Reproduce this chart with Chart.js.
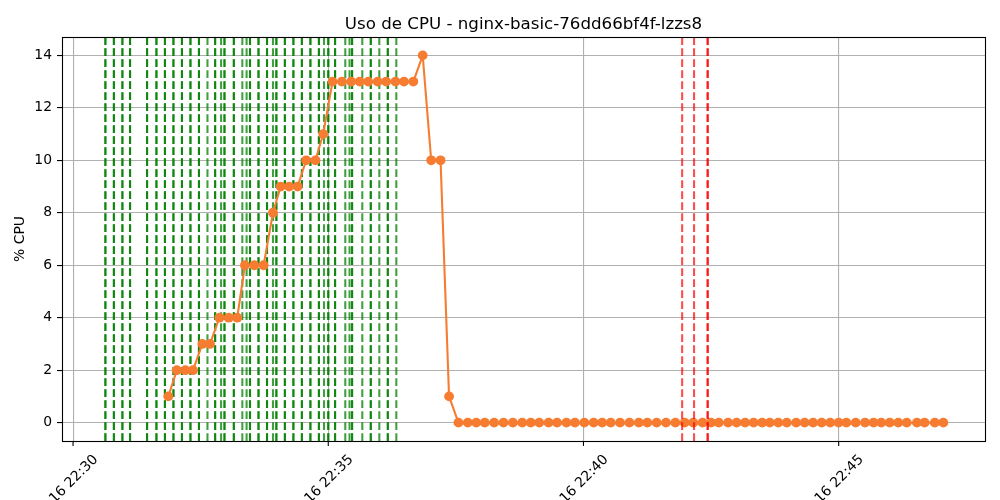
<!DOCTYPE html>
<html>
<head>
<meta charset="utf-8">
<script src="https://cdn.jsdelivr.net/npm/chart.js@4/dist/chart.umd.min.js"></script>
<style>
html,body{margin:0;padding:0;background:#fff;}
#wrap{width:1000px;height:500px;}
</style>
</head>
<body>
<div id="wrap"><canvas id="c" width="1000" height="500"></canvas></div>
<script>
// ---- data ----
const chartTitle = "Uso de CPU - nginx-basic-76dd66bf4f-lzzs8";
const yAxisTitle = "% CPU";

const sampleTimes = [
  "22:31:52","22:32:02","22:32:12","22:32:21","22:32:32","22:32:41","22:32:52","22:33:03","22:33:13","22:33:22",
  "22:33:33","22:33:44","22:33:55","22:34:04","22:34:14","22:34:24","22:34:34","22:34:45","22:34:54","22:35:05",
  "22:35:16","22:35:27","22:35:37","22:35:47","22:35:58","22:36:08","22:36:19","22:36:29","22:36:40","22:36:51",
  "22:37:01","22:37:12","22:37:22","22:37:33","22:37:44","22:37:54","22:38:04","22:38:15","22:38:26","22:38:37",
  "22:38:48","22:38:58","22:39:08","22:39:19","22:39:29","22:39:40","22:39:50","22:40:01","22:40:12","22:40:22",
  "22:40:32","22:40:43","22:40:54","22:41:05","22:41:15","22:41:26","22:41:37","22:41:48","22:41:59","22:42:09",
  "22:42:20","22:42:30","22:42:39","22:42:50","22:43:00","22:43:10","22:43:20","22:43:30","22:43:39","22:43:49",
  "22:43:59","22:44:10","22:44:20","22:44:30","22:44:40","22:44:50","22:45:00","22:45:09","22:45:20","22:45:31",
  "22:45:41","22:45:50","22:46:00","22:46:10","22:46:20","22:46:32","22:46:41","22:46:53","22:47:03"
];

const cpuValues = [
  1, 2, 2, 2, 3, 3, 4, 4, 4, 6,
  6, 6, 8, 9, 9, 9, 10, 10, 11, 13,
  13, 13, 13, 13, 13, 13, 13, 13, 13, 14,
  10, 10, 1,
  0, 0, 0, 0, 0, 0, 0, 0, 0, 0, 0, 0, 0, 0,
  0, 0, 0, 0, 0, 0, 0, 0, 0, 0, 0, 0, 0, 0,
  0, 0, 0, 0, 0, 0, 0, 0, 0, 0, 0, 0, 0, 0,
  0, 0, 0, 0, 0, 0, 0, 0, 0, 0, 0, 0, 0, 0
];

const scaleUpEvents = [
  "22:30:38","22:30:38","22:30:48","22:30:48","22:30:58","22:30:58","22:31:07","22:31:07",
  "22:31:27","22:31:27","22:31:38","22:31:38","22:31:48","22:31:48","22:31:58","22:31:58",
  "22:32:08","22:32:08","22:32:18","22:32:18","22:32:28","22:32:28","22:32:38",
  "22:32:47","22:32:47","22:32:54","22:32:58","22:32:58","22:33:09","22:33:09",
  "22:33:19","22:33:24","22:33:28","22:33:28","22:33:38","22:33:38","22:33:48","22:33:48",
  "22:33:55","22:33:59","22:33:59","22:34:09","22:34:09","22:34:19","22:34:19",
  "22:34:29","22:34:29","22:34:39","22:34:39","22:34:49","22:34:49","22:34:55",
  "22:35:00","22:35:00","22:35:08","22:35:08","22:35:20","22:35:25","22:35:28","22:35:28",
  "22:35:40","22:35:50","22:35:50","22:36:00","22:36:10","22:36:10","22:36:20"
];

const scaleDownEvents = ["22:41:56","22:42:10","22:42:26","22:42:26"];

const xTickTimes = ["22:30:00","22:35:00","22:40:00","22:45:00"];
const xTickLabels = ["16 22:30","16 22:35","16 22:40","16 22:45"];
const xRange = ["22:29:47","22:47:52"];
const yTicks = [0, 2, 4, 6, 8, 10, 12, 14];
const yRange = [-0.7, 14.7];

// ---- helpers ----
function toSec(t) {
  const p = t.split(":").map(Number);
  return p[0] * 3600 + p[1] * 60 + p[2];
}

const FONT = '"DejaVu Sans", sans-serif';
const TICK_SIZE = 13.9;
const TITLE_SIZE = 16.67;

const points = sampleTimes.map((t, i) => ({ x: toSec(t), y: cpuValues[i] }));

function drawVLines(chart, times, color) {
  const ctx = chart.ctx;
  const xs = chart.scales.x;
  const a = chart.chartArea;
  ctx.save();
  ctx.beginPath();
  ctx.rect(a.left, a.top, a.right - a.left, a.bottom - a.top);
  ctx.clip();
  ctx.strokeStyle = color;
  ctx.lineWidth = 2.08;
  ctx.setLineDash([7.7, 3.3]);
  times.forEach(t => {
    const x = xs.getPixelForValue(toSec(t));
    ctx.beginPath();
    ctx.moveTo(x, a.bottom);
    ctx.lineTo(x, a.top);
    ctx.stroke();
  });
  ctx.restore();
}

const overlay = {
  id: "overlay",
  beforeDatasetsDraw(chart) {
    drawVLines(chart, scaleUpEvents, "rgba(0,128,0,0.75)");
  },
  afterDatasetsDraw(chart) {
    drawVLines(chart, scaleDownEvents, "rgba(255,0,0,0.7)");
  },
  afterDraw(chart) {
    const ctx = chart.ctx;
    const a = chart.chartArea;
    const xs = chart.scales.x;
    ctx.save();
    // title centred over the plot area
    ctx.font = TITLE_SIZE + "px " + FONT;
    ctx.fillStyle = "#000";
    ctx.textAlign = "center";
    ctx.textBaseline = "alphabetic";
    ctx.fillText(chartTitle, (a.left + a.right) / 2, a.top - 8);
    // frame
    ctx.strokeStyle = "#000";
    ctx.lineWidth = 1.1;
    ctx.strokeRect(Math.round(a.left) + 0.5, Math.round(a.top) + 0.5,
      Math.round(a.right) - Math.round(a.left), Math.round(a.bottom) - Math.round(a.top));
    // x tick marks and rotated labels
    ctx.font = TICK_SIZE + "px " + FONT;
    xTickTimes.forEach((t, i) => {
      const x = xs.getPixelForValue(toSec(t));
      ctx.beginPath();
      ctx.moveTo(x, a.bottom);
      ctx.lineTo(x, a.bottom + 4.9);
      ctx.stroke();
      const label = xTickLabels[i];
      const w = ctx.measureText(label).width;
      const h = TICK_SIZE * 1.164;
      const half = (w + h) * Math.SQRT1_2 / 2;
      const cy = a.bottom + 9.8 + half;
      ctx.save();
      ctx.translate(x, cy);
      ctx.rotate(-Math.PI / 4);
      ctx.fillText(label, 0, 0.346 * TICK_SIZE);
      ctx.restore();
    });
    ctx.restore();
  }
};

new Chart(document.getElementById("c"), {
  type: "line",
  data: {
    datasets: [{
      data: points,
      borderColor: "#f57c31",
      backgroundColor: "#f57c31",
      borderWidth: 2.08,
      pointRadius: 4.9,
      pointHoverRadius: 4.9,
      pointBorderWidth: 0,
      tension: 0,
      fill: false
    }]
  },
  options: {
    responsive: false,
    animation: false,
    devicePixelRatio: 1,
    layout: { padding: { top: 37, right: 15, bottom: 0, left: 0 } },
    plugins: {
      legend: { display: false },
      tooltip: { enabled: false },
      title: { display: false }
    },
    scales: {
      x: {
        type: "linear",
        min: toSec(xRange[0]),
        max: toSec(xRange[1]),
        afterBuildTicks: s => { s.ticks = xTickTimes.map(t => ({ value: toSec(t) })); },
        afterFit: s => { s.height = 59; },
        ticks: { display: false },
        grid: { color: "#b0b0b0", lineWidth: 1.1, drawTicks: false },
        border: { display: false }
      },
      y: {
        min: yRange[0],
        max: yRange[1],
        afterBuildTicks: s => { s.ticks = yTicks.map(v => ({ value: v })); },
        afterFit: s => { s.width = 62; },
        ticks: {
          color: "#000",
          padding: 5,
          font: { family: FONT, size: TICK_SIZE }
        },
        grid: { color: "#b0b0b0", lineWidth: 1.1, drawTicks: true, tickLength: 5, tickColor: "#000", tickWidth: 1.1 },
        border: { display: false },
        title: {
          display: true,
          text: yAxisTitle,
          color: "#000",
          font: { family: FONT, size: TICK_SIZE },
          padding: { top: 12, bottom: 0 }
        }
      }
    }
  },
  plugins: [overlay]
});
</script>
</body>
</html>
